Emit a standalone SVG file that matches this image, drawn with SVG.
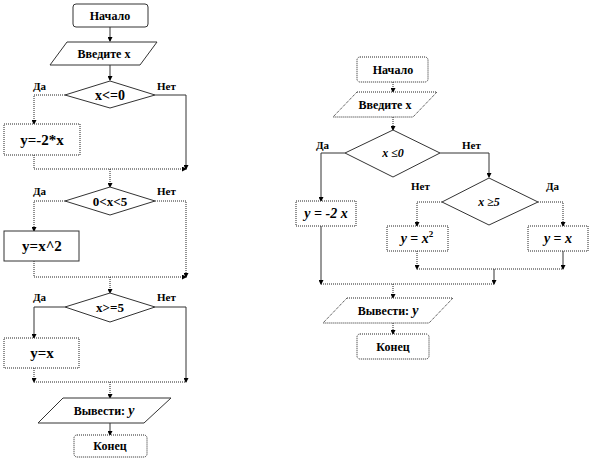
<svg xmlns="http://www.w3.org/2000/svg" width="591" height="462" viewBox="0 0 591 462">
<defs>
<marker id="ar" markerWidth="5" markerHeight="5" refX="4" refY="2.5" orient="auto" markerUnits="userSpaceOnUse">
<path d="M0,0 L5,2.5 L0,5 Z" fill="#000"/>
</marker>
<style>
.sh{fill:#fff;stroke:#222;stroke-width:1;stroke-dasharray:1 1}
.sd{fill:#fff;stroke:#333;stroke-width:1}
.ln{fill:none;stroke:#222;stroke-width:1;stroke-dasharray:1 1}
.ls{fill:none;stroke:#333;stroke-width:1}
text{font-family:"Liberation Serif",serif;font-weight:bold;fill:#000}
.t{text-anchor:middle}
.s{font-size:12px}
.d{font-size:13px}
.r{font-size:14px}
.m{font-size:15px}
.l{font-size:11px}
.i{font-style:italic}
</style>
</defs>
<rect width="591" height="462" fill="#fff"/>

<g id="connectors">
<path class="ls" d="M110,27 V41" marker-end="url(#ar)"/>
<path class="ls" d="M110,65 V80" marker-end="url(#ar)"/>
<path class="ln" d="M65,95 H34 V124" marker-end="url(#ar)"/>
<path class="ls" d="M155,95 H186 V169" marker-end="url(#ar)"/>
<path class="ln" d="M34,155 V169 H186" marker-end="url(#ar)"/>
<path class="ln" d="M110,169 V187" marker-end="url(#ar)"/>
<path class="ln" d="M65,201 H34 V231" marker-end="url(#ar)"/>
<path class="ln" d="M155,201 H186 V277" marker-end="url(#ar)"/>
<path class="ln" d="M34,261 V277 H186" marker-end="url(#ar)"/>
<path class="ln" d="M110,277 V293" marker-end="url(#ar)"/>
<path class="ls" d="M65,307 H34 V338" marker-end="url(#ar)"/>
<path class="ls" d="M155,307 H186 V382" marker-end="url(#ar)"/>
<path class="ln" d="M34,368 V382" marker-end="url(#ar)"/>
<path class="ln" d="M34,382 H186"/>
<path class="ln" d="M110,382 V398" marker-end="url(#ar)"/>
<path class="ls" d="M110,423 V435" marker-end="url(#ar)"/>
<path class="ln" d="M393,82 V92" marker-end="url(#ar)"/>
<path class="ln" d="M393,117 V130" marker-end="url(#ar)"/>
<path class="ls" d="M345,153 H321 V201" marker-end="url(#ar)"/>
<path class="ls" d="M440,153 H489 V177" marker-end="url(#ar)"/>
<path class="ln" d="M442,202 H417 V226" marker-end="url(#ar)"/>
<path class="ln" d="M538,202 H563 V226" marker-end="url(#ar)"/>
<path class="ln" d="M417,251 V269" marker-end="url(#ar)"/>
<path class="ls" d="M563,251 V269" marker-end="url(#ar)"/>
<path class="ln" d="M417,269 H563"/>
<path class="ls" d="M494,269 V284" marker-end="url(#ar)"/>
<path class="ls" d="M321,226 V284" marker-end="url(#ar)"/>
<path class="ln" d="M321,284 H494"/>
<path class="ln" d="M393,284 V298" marker-end="url(#ar)"/>
<path class="ln" d="M393,323 V334" marker-end="url(#ar)"/>
</g>

<g id="labels">
<text class="l" x="33" y="90">Да</text>
<text class="l" x="157" y="90">Нет</text>
<text class="l" x="33" y="195">Да</text>
<text class="l" x="157" y="195">Нет</text>
<text class="l" x="33" y="301">Да</text>
<text class="l" x="157" y="301">Нет</text>
<text class="l" x="316" y="149">Да</text>
<text class="l" x="462" y="149">Нет</text>
<text class="l" x="411" y="190">Нет</text>
<text class="l" x="546" y="190">Да</text>
</g>

<g id="start1"><rect class="sd" x="73" y="4" width="75" height="23" rx="3"/><text class="t s" x="110" y="20">Начало</text></g>
<g id="input1"><polygon class="sd" points="67,42 157,42 140,65 50,65"/><text class="t s" x="104" y="58">Введите x</text></g>
<g id="dec1"><polygon class="sd" points="110,81 155,95 110,108 65,95"/><text class="t r" x="110" y="100">x&lt;=0</text></g>
<g id="box1"><rect class="sh" x="4" y="124" width="76" height="31"/><text class="t m" x="42" y="145">y=-2*x</text></g>
<g id="dec2"><polygon class="sd" points="110,187 155,201 110,215 65,201"/><text class="t d" x="110" y="206">0&lt;x&lt;5</text></g>
<g id="box2"><rect class="sd" x="4" y="231" width="75" height="30"/><text class="t m" x="42" y="251">y=x^2</text></g>
<g id="dec3"><polygon class="sd" points="110,293 155,307 110,322 65,307"/><text class="t d" x="110" y="312">x&gt;=5</text></g>
<g id="box3"><rect class="sh" x="4" y="338" width="75" height="30"/><text class="t m" x="42" y="358">y=x</text></g>
<g id="out1"><polygon class="sd" points="63,398 171,398 144,423 38,423"/><text class="t s" x="104" y="415">Вывести:  <tspan class="i" font-size="14">y</tspan></text></g>
<g id="end1"><rect class="sh" x="74" y="435" width="73" height="22" rx="3"/><text class="t s" x="110" y="450">Конец</text></g>

<g id="start2"><rect class="sh" x="357" y="57" width="71" height="25" rx="3"/><text class="t s" x="393" y="74">Начало</text></g>
<g id="input2"><polygon class="ln" style="fill:#fff" points="357,92 437,92 413,117 333,117"/><text class="t s" x="385" y="109">Введите x</text></g>
<g id="dec4"><polygon class="sd" points="393,130 440,153 393,177 345,153"/><text class="t s i" x="393" y="157">x ≤0</text></g>
<g id="box4"><rect class="sh" x="296" y="201" width="60" height="25"/><text class="t r i" x="326" y="218">y = -2 x</text></g>
<g id="dec5"><polygon class="sd" points="489,178 538,202 489,225 442,202"/><text class="t s i" x="489" y="206">x ≥5</text></g>
<g id="box5"><rect class="sh" x="387" y="226" width="61" height="25"/><text class="t r" x="417" y="243"><tspan class="i">y</tspan> = <tspan class="i">x</tspan><tspan font-size="9" dy="-6">2</tspan></text></g>
<g id="box6"><rect class="sh" x="528" y="226" width="60" height="25"/><text class="t r" x="558" y="243"><tspan class="i">y</tspan> = <tspan class="i">x</tspan></text></g>
<g id="out2"><polygon class="ln" style="fill:#fff" points="347,298 453,298 429,323 323,323"/><text class="t s" x="388" y="315">Вывести:  <tspan class="i" font-size="14">y</tspan></text></g>
<g id="end2"><rect class="sh" x="357" y="334" width="72" height="25" rx="3"/><text class="t s" x="393" y="351">Конец</text></g>
</svg>
